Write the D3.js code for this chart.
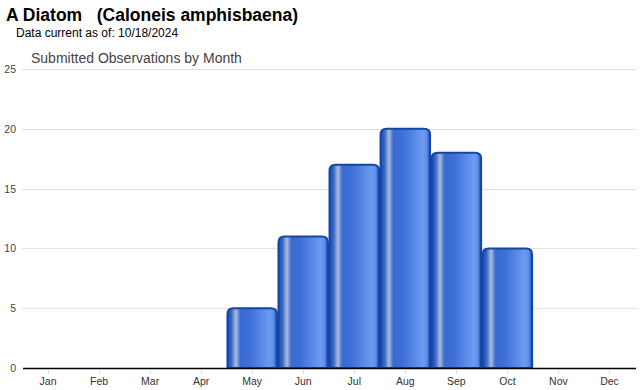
<!DOCTYPE html>
<html>
<head>
<meta charset="utf-8">
<script src="https://cdn.jsdelivr.net/npm/d3@7"></script>
<style>
body { margin: 0; background: #fff; }
svg { display: block; font-family: Arial, "Liberation Sans", sans-serif; }
</style>
</head>
<body>
<script>
var months = ["Jan","Feb","Mar","Apr","May","Jun","Jul","Aug","Sep","Oct","Nov","Dec"];
var counts = [0, 0, 0, 0, 5, 11, 17, 20, 18, 10, 0, 0];
var yTicks = [0, 5, 10, 15, 20, 25];

var width = 640, height = 390;
var margin = {top: 69, right: 5, bottom: 22, left: 22};

var svg = d3.select("body").append("svg")
    .attr("width", width)
    .attr("height", height);

// titles
svg.append("text").attr("x", 6).attr("y", 21)
   .style("font-size", "17.5px").style("font-weight", "bold").attr("fill", "#000")
   .attr("xml:space", "preserve")
   .text("A Diatom   (Caloneis amphisbaena)");
svg.append("text").attr("x", 16).attr("y", 37)
   .style("font-size", "12px").attr("fill", "#000")
   .text("Data current as of: 10/18/2024");
svg.append("text").attr("x", 31).attr("y", 63)
   .style("font-size", "14px").attr("fill", "#444")
   .text("Submitted Observations by Month");

var x = d3.scaleBand()
    .domain(months)
    .range([margin.left + 0.5, width - margin.right])
    .paddingInner(0.03)
    .paddingOuter(0.015);

var y = d3.scaleLinear()
    .domain([0, 25])
    .range([height - margin.bottom, margin.top]);

// gradient for bars
var defs = svg.append("defs");
var grad = defs.append("linearGradient").attr("id", "barGrad")
    .attr("x1", "0%").attr("x2", "100%").attr("y1", "0%").attr("y2", "0%");
[[0, "#1a4cb4"], [0.08, "#3a66c4"], [0.17, "#aabbdd"], [0.26, "#3a6ad0"],
 [0.45, "#3d6fd8"], [0.85, "#6b9cf2"], [0.93, "#5f8ee8"], [1, "#1a4cb4"]]
  .forEach(function(s) {
    grad.append("stop").attr("offset", s[0]).attr("stop-color", s[1]);
  });

// gridlines
svg.append("g").selectAll("line")
   .data(yTicks.filter(function(d) { return d > 0; }))
   .enter().append("line")
   .attr("x1", margin.left).attr("x2", width - 3)
   .attr("y1", function(d) { return Math.round(y(d)) + 0.5; })
   .attr("y2", function(d) { return Math.round(y(d)) + 0.5; })
   .attr("stroke", "#e2e2e2").attr("stroke-width", 1);

// y labels
svg.append("g").selectAll("text")
   .data(yTicks).enter().append("text")
   .attr("x", 16).attr("y", function(d) { return y(d) + 4; })
   .attr("text-anchor", "end")
   .style("font-size", "10.5px").attr("fill", "#444")
   .text(function(d) { return d; });

// bars with rounded top corners
function barPath(d, i) {
  var x0 = x(months[i]), w = x.bandwidth(), y0 = y(0), y1 = y(d), r = 6;
  return "M" + x0 + "," + y0 +
         "V" + (y1 + r) +
         "Q" + x0 + "," + y1 + " " + (x0 + r) + "," + y1 +
         "H" + (x0 + w - r) +
         "Q" + (x0 + w) + "," + y1 + " " + (x0 + w) + "," + (y1 + r) +
         "V" + y0 + "Z";
}
svg.append("g").selectAll("path")
   .data(counts).enter()
   .append("path")
   .attr("d", function(d, i) { return d > 0 ? barPath(d, i) : null; })
   .attr("fill", "url(#barGrad)")
   .attr("stroke", "#1446a6").attr("stroke-width", 2);

// baseline
svg.append("line")
   .attr("x1", margin.left + 1).attr("x2", width - 4)
   .attr("y1", y(0) + 0.5).attr("y2", y(0) + 0.5)
   .attr("stroke", "#000").attr("stroke-width", 1.5);

// x ticks and labels
var xg = svg.append("g");
xg.selectAll("line").data(months).enter().append("line")
   .attr("x1", function(d) { return Math.round(x(d) + x.bandwidth() / 2) + 0.5; })
   .attr("x2", function(d) { return Math.round(x(d) + x.bandwidth() / 2) + 0.5; })
   .attr("y1", y(0) + 2).attr("y2", y(0) + 6)
   .attr("stroke", "#ddd");
xg.selectAll("text").data(months).enter().append("text")
   .attr("x", function(d) { return x(d) + x.bandwidth() / 2; })
   .attr("y", y(0) + 17)
   .attr("text-anchor", "middle")
   .style("font-size", "10.5px").attr("fill", "#333")
   .text(function(d) { return d; });
</script>
</body>
</html>
